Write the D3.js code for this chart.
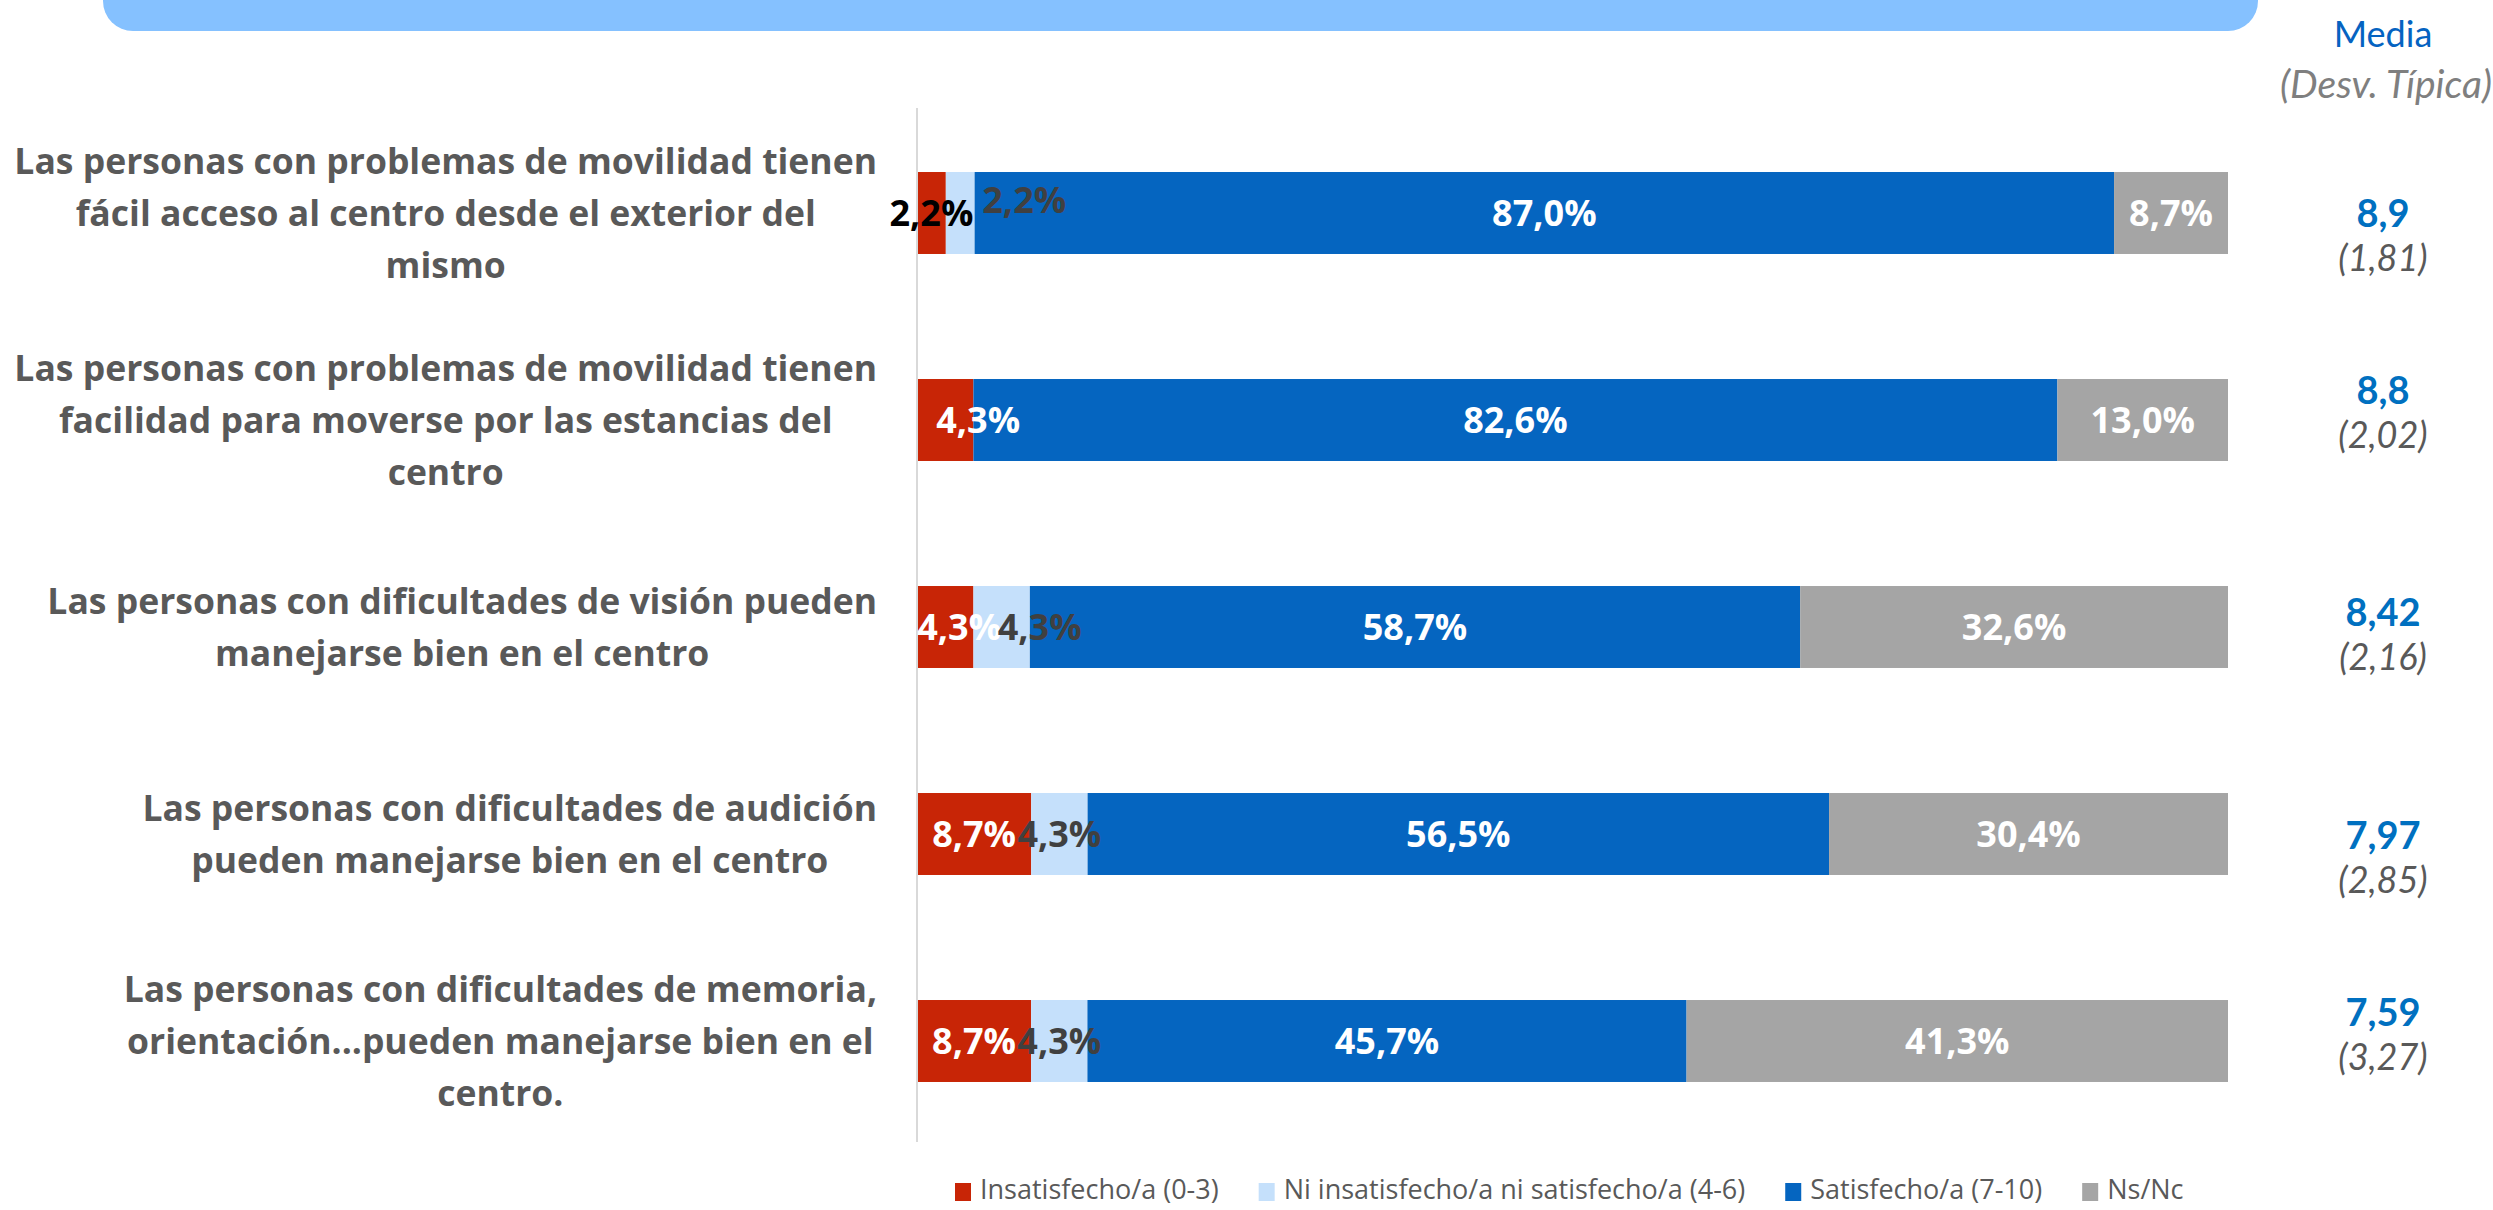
<!DOCTYPE html>
<html>
<head>
<meta charset="utf-8">
<script src="https://cdn.jsdelivr.net/npm/d3@7"></script>
<style>
  html, body { margin: 0; padding: 0; background: #ffffff; }
  svg { display: block; }
</style>
</head>
<body>
<svg id="chart" width="2493" height="1210"></svg>
<script>
// Accessibility survey items (each line break is a wrapped line of the label)
const categories = [
  "Las personas con problemas de movilidad tienen\nfácil acceso al centro desde el exterior del\nmismo",
  "Las personas con problemas de movilidad tienen\nfacilidad para moverse por las estancias del\ncentro",
  "Las personas con dificultades de visión pueden\nmanejarse bien en el centro",
  "Las personas con dificultades de audición\npueden manejarse bien en el centro",
  "Las personas con dificultades de memoria,\norientación...pueden manejarse bien en el\ncentro."
];

const seriesNames = [
  "Insatisfecho/a (0-3)",
  "Ni insatisfecho/a ni satisfecho/a (4-6)",
  "Satisfecho/a (7-10)",
  "Ns/Nc"
];

// Percentages per series, one value per item
const insatisfecho = [2.2, 4.3, 4.3, 8.7, 8.7];
const neutral      = [2.2, 0.0, 4.3, 4.3, 4.3];
const satisfecho   = [87.0, 82.6, 58.7, 56.5, 45.7];
const nsnc         = [8.7, 13.0, 32.6, 30.4, 41.3];

// Mean score and standard deviation per item
const medias   = ["8,9", "8,8", "8,42", "7,97", "7,59"];
const desvTip  = ["1,81", "2,02", "2,16", "2,85", "3,27"];

const colors = ["#c82506", "#c5e0fb", "#0565c0", "#a5a5a5"];
const labelColors = ["#ffffff", "#404040", "#ffffff", "#ffffff"];

const seriesValues = [insatisfecho, neutral, satisfecho, nsnc];

const svg = d3.select("#chart");

// Header banner
svg.append("rect")
  .attr("x", 103).attr("y", -60)
  .attr("width", 2258 - 103).attr("height", 60 + 31)
  .attr("rx", 30).attr("ry", 30)
  .attr("fill", "#85c1ff");

// Scales
const plotLeft = 917, plotRight = 2228;
const y = d3.scaleBand()
  .domain(d3.range(categories.length))
  .range([109.5, 1144.5])
  .paddingInner(0.604)
  .paddingOuter(0.302);

const x = d3.scaleLinear().domain([0, 1]).range([plotLeft, plotRight]);

// Build stacked (100%) rows
const rows = categories.map((c, i) => {
  const vals = seriesValues.map(s => s[i]);
  const total = d3.sum(vals);
  let acc = 0;
  return vals.map((v, k) => {
    const s = { row: i, k, v, x0: acc / total, x1: (acc + v) / total };
    acc += v;
    return s;
  });
});

const fmtPct = v => d3.format(".1f")(v).replace(".", ",") + "%";

// Bars
const gBars = svg.append("g");
rows.forEach(segs => {
  gBars.selectAll(null)
    .data(segs.filter(s => s.v > 0))
    .enter().append("rect")
    .attr("x", d => x(d.x0))
    .attr("y", d => y(d.row))
    .attr("width", d => x(d.x1) - x(d.x0))
    .attr("height", y.bandwidth())
    .attr("fill", d => colors[d.k]);
});

// Vertical category axis line
svg.append("line")
  .attr("x1", plotLeft).attr("x2", plotLeft)
  .attr("y1", 108).attr("y2", 1142)
  .attr("stroke", "#d9d9d9").attr("stroke-width", 2);

// Value labels (a few are shifted so that narrow segments stay legible)
const labelShift = { "0-1": [64, -13], "1-0": [33, 0], "2-0": [14, 0], "2-1": [38, 0] };
const labelColorOverride = { "0-0": "#000000" };
const gLabels = svg.append("g")
  .attr("font-family", "'Open Sans', sans-serif")
  .attr("font-weight", 700)
  .attr("font-size", 36)
  .attr("text-anchor", "middle");
rows.forEach(segs => {
  gLabels.selectAll(null)
    .data(segs.filter(s => s.v > 0))
    .enter().append("text")
    .attr("x", d => (x(d.x0) + x(d.x1)) / 2 + (labelShift[d.row + "-" + d.k] || [0, 0])[0])
    .attr("y", d => y(d.row) + y.bandwidth() / 2 + (labelShift[d.row + "-" + d.k] || [0, 0])[1])
    .attr("dy", "0.36em")
    .attr("fill", d => labelColorOverride[d.row + "-" + d.k] || labelColors[d.k])
    .text(d => fmtPct(d.v));
});

// Category labels: block right-aligned to the axis gutter, lines centred inside it
const catRight = 877, lineH = 52;
const gCats = svg.append("g")
  .attr("font-family", "'Open Sans', sans-serif")
  .attr("font-weight", 700)
  .attr("font-size", 35.5)
  .attr("fill", "#595959")
  .attr("text-anchor", "middle");
categories.forEach((c, i) => {
  const lines = c.split("\n");
  const t = gCats.append("text");
  const cy = y(i) + y.bandwidth() / 2;
  const spans = lines.map((ln, j) => t.append("tspan")
    .attr("y", cy + (j - (lines.length - 1) / 2) * lineH + 13)
    .text(ln));
  const maxW = d3.max(spans, s => s.node().getComputedTextLength());
  const cx = catRight - maxW / 2;
  spans.forEach(s => s.attr("x", cx));
});

// Mean / std. deviation column
const statsX = 2383;
const statsShift = [0, -30, -15, 1, -29];
svg.append("text")
  .attr("x", statsX).attr("y", 47)
  .attr("text-anchor", "middle")
  .attr("font-family", "Lato, sans-serif")
  .attr("font-size", 36)
  .attr("fill", "#0563c1")
  .text("Media");
svg.append("text")
  .attr("x", statsX + 3).attr("y", 98)
  .attr("text-anchor", "middle")
  .attr("font-family", "Lato, sans-serif")
  .attr("font-style", "italic")
  .attr("font-size", 39)
  .attr("fill", "#7f7f7f")
  .text("(Desv. Típica)");

medias.forEach((m, i) => {
  const cy = y(i) + y.bandwidth() / 2 + statsShift[i];
  svg.append("text")
    .attr("x", statsX).attr("y", cy)
    .attr("dy", "0.36em")
    .attr("text-anchor", "middle")
    .attr("font-family", "Lato, sans-serif")
    .attr("font-weight", 700)
    .attr("font-size", 38)
    .attr("fill", "#0070c0")
    .text(m);
  svg.append("text")
    .attr("x", statsX).attr("y", cy + 45)
    .attr("dy", "0.36em")
    .attr("text-anchor", "middle")
    .attr("font-family", "Lato, sans-serif")
    .attr("font-style", "italic")
    .attr("font-size", 36)
    .attr("fill", "#595959")
    .text("(" + desvTip[i] + ")");
});

// Legend (clipped at the plot's right edge)
svg.append("defs").append("clipPath").attr("id", "legendClip")
  .append("rect").attr("x", 0).attr("y", 1150).attr("width", plotRight).attr("height", 60);
const gLeg = svg.append("g").attr("clip-path", "url(#legendClip)")
  .attr("font-family", "'Open Sans', sans-serif")
  .attr("font-size", 27)
  .attr("fill", "#595959");
let lx = 955;
seriesNames.forEach((name, k) => {
  gLeg.append("rect")
    .attr("x", lx).attr("y", 1183).attr("width", 16).attr("height", 18)
    .attr("fill", colors[k]);
  const t = gLeg.append("text")
    .attr("x", lx + 25).attr("y", 1190).attr("dy", "0.35em")
    .text(name);
  lx += 25 + t.node().getComputedTextLength() + 40;
});
</script>
</body>
</html>
